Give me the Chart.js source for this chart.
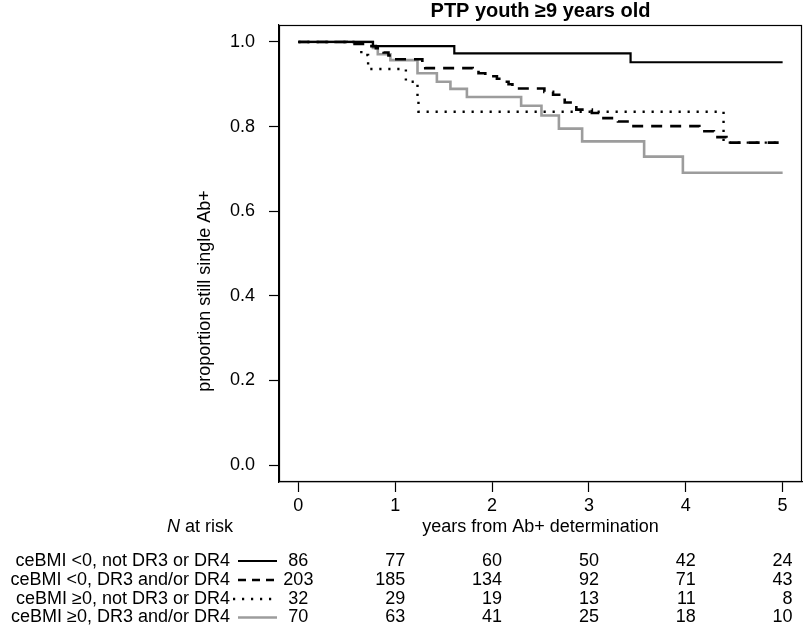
<!DOCTYPE html>
<html>
<head>
<meta charset="utf-8">
<script src="https://cdn.jsdelivr.net/npm/chart.js@4.4.1/dist/chart.umd.min.js"></script>
<style>
  html, body { margin: 0; padding: 0; background: #ffffff; }
  #wrap { width: 805px; height: 635px; }
</style>
</head>
<body>
<div id="wrap"><canvas id="c" width="805" height="635"></canvas></div>
<script>
// ---- data ----
const chartTitle = 'PTP youth \u22659 years old';
const xTitle = 'years from Ab+ determination';
const yTitle = 'proportion still single Ab+';
const xTicks = [0, 1, 2, 3, 4, 5];
const yTicks = [0, 0.2, 0.4, 0.6, 0.8, 1.0];

const groupLabels = [
  'ceBMI <0, not DR3 or DR4',
  'ceBMI <0, DR3 and/or DR4',
  'ceBMI \u22650, not DR3 or DR4',
  'ceBMI \u22650, DR3 and/or DR4'
];

// Kaplan-Meier steps: time (years) and survival after the drop at that time
const g1Time = [0, 0.77, 1.61, 3.43, 5.0];
const g1Surv = [1.0, 0.990, 0.973, 0.952, 0.952];

const g2Time = [0, 0.50, 0.70, 0.80, 0.84, 0.88, 0.93, 0.97, 1.28, 1.31, 1.80, 1.86, 1.93, 2.05, 2.09, 2.17, 2.21, 2.54, 2.63, 2.75, 2.87, 3.03, 3.15, 3.30, 3.44, 4.14, 4.29, 4.42, 5.0];
const g2Surv = [1.0, 0.995, 0.990, 0.985, 0.980, 0.975, 0.968, 0.959, 0.950, 0.938, 0.933, 0.926, 0.919, 0.913, 0.906, 0.900, 0.890, 0.882, 0.875, 0.857, 0.840, 0.832, 0.820, 0.812, 0.801, 0.789, 0.775, 0.762, 0.762];

const g3Time = [0, 0.65, 0.72, 1.11, 1.23, 1.24, 4.39, 5.0];
const g3Surv = [1.0, 0.969, 0.936, 0.906, 0.870, 0.835, 0.762, 0.762];

const g4Time = [0, 0.77, 0.82, 0.95, 1.23, 1.43, 1.57, 1.74, 2.30, 2.51, 2.69, 2.93, 3.57, 3.97, 5.0];
const g4Surv = [1.0, 0.986, 0.971, 0.957, 0.926, 0.906, 0.889, 0.870, 0.849, 0.826, 0.795, 0.765, 0.729, 0.691, 0.691];

// numbers at risk at years 0..5
const risk1 = [86, 77, 60, 50, 42, 24];
const risk2 = [203, 185, 134, 92, 71, 43];
const risk3 = [32, 29, 19, 13, 11, 8];
const risk4 = [70, 63, 41, 25, 18, 10];
const riskRows = [risk1, risk2, risk3, risk4];

// ---- styles ----
const GREY = '#9c9c9c';
const FONT = '"Liberation Sans", Arial, Helvetica, sans-serif';
const styles = [
  { color: '#000000', width: 2.2, dash: [] },
  { color: '#000000', width: 2.6, dash: [11, 8] },
  { color: '#000000', width: 2.4, dash: [2.2, 6.8] },
  { color: GREY, width: 2.6, dash: [] }
];

function pts(t, s) { return t.map((v, i) => ({ x: v, y: s[i] })); }
const series = [pts(g1Time, g1Surv), pts(g2Time, g2Surv), pts(g3Time, g3Surv), pts(g4Time, g4Surv)];

const datasets = series.map((d, i) => ({
  label: groupLabels[i],
  data: d,
  stepped: 'before',
  borderColor: styles[i].color,
  borderWidth: styles[i].width,
  borderDash: styles[i].dash,
  borderCapStyle: 'butt',
  pointRadius: 0,
  fill: false,
  order: i === 3 ? 4 : (3 - i)
}));

const annot = {
  id: 'annot',
  afterDraw(chart) {
    const ctx = chart.ctx;
    const a = chart.chartArea;
    const xs = chart.scales.x;
    ctx.save();
    // plot box
    ctx.strokeStyle = '#000';
    ctx.lineWidth = 1.2;
    ctx.strokeRect(a.left + 0.5, a.top + 0.5, a.right - a.left - 1, a.bottom - a.top - 1);

    ctx.fillStyle = '#000';
    // title
    ctx.font = 'bold 20px ' + FONT;
    ctx.textAlign = 'center';
    ctx.textBaseline = 'middle';
    ctx.fillText(chartTitle, (a.left + a.right) / 2, 11);

    // x title
    ctx.font = '18px ' + FONT;
    ctx.fillText(xTitle, (a.left + a.right) / 2, 527);

    // y title
    ctx.save();
    ctx.translate(205, 291);
    ctx.rotate(-Math.PI / 2);
    ctx.fillText(yTitle, 0, 0);
    ctx.restore();

    // "N at risk"
    ctx.font = 'italic 18px ' + FONT;
    const wN = ctx.measureText('N').width;
    ctx.font = '18px ' + FONT;
    const wRest = ctx.measureText(' at risk').width;
    const startX = 200 - (wN + wRest) / 2;
    ctx.textAlign = 'left';
    ctx.font = 'italic 18px ' + FONT;
    ctx.fillText('N', startX, 527);
    ctx.font = '18px ' + FONT;
    ctx.fillText(' at risk', startX + wN, 527);

    // at-risk table
    const rowY = [561, 580, 599, 617.5];
    for (let r = 0; r < 4; r++) {
      const y = rowY[r];
      ctx.font = '18px ' + FONT;
      ctx.textAlign = 'right';
      ctx.fillText(groupLabels[r], 230, y);
      // line sample
      ctx.save();
      ctx.strokeStyle = styles[r].color;
      ctx.lineWidth = styles[r].width;
      ctx.setLineDash(r === 1 ? [8, 6] : styles[r].dash);
      ctx.beginPath();
      ctx.moveTo(r === 2 ? 233 : 238, y);
      ctx.lineTo(277, y);
      ctx.stroke();
      ctx.restore();
      const row = riskRows[r];
      for (let c = 0; c < row.length; c++) {
        const px = xs.getPixelForValue(xTicks[c]);
        if (c === 0) {
          ctx.textAlign = 'center';
          ctx.fillText(String(row[c]), px, y);
        } else {
          ctx.textAlign = 'right';
          ctx.fillText(String(row[c]), px + 10, y);
        }
      }
    }
    ctx.restore();
  }
};

new Chart(document.getElementById('c'), {
  type: 'line',
  data: { datasets },
  plugins: [annot],
  options: {
    responsive: false,
    animation: false,
    devicePixelRatio: 1,
    layout: { padding: { top: 25, right: 3, left: 0, bottom: 0 } },
    plugins: { legend: { display: false }, tooltip: { enabled: false }, title: { display: false } },
    scales: {
      x: {
        type: 'linear',
        min: -0.2,
        max: 5.2,
        afterBuildTicks: (s) => { s.ticks = xTicks.map(v => ({ value: v })); },
        afterFit: (s) => { s.height = 153; },
        ticks: {
          autoSkip: false, maxRotation: 0, color: '#000', padding: 3,
          font: { family: FONT, size: 18 },
          callback: (v) => String(v)
        },
        grid: { drawOnChartArea: false, drawTicks: true, tickLength: 10, color: '#000', tickWidth: 1.2 },
        border: { display: true, color: '#000', width: 1.2 }
      },
      y: {
        type: 'linear',
        min: -0.04,
        max: 1.04,
        afterBuildTicks: (s) => { s.ticks = yTicks.map(v => ({ value: v })); },
        afterFit: (s) => { s.width = 279; },
        ticks: {
          autoSkip: false, color: '#000', padding: 14,
          font: { family: FONT, size: 18 },
          callback: (v) => Number(v).toFixed(1)
        },
        grid: { drawOnChartArea: false, drawTicks: true, tickLength: 10, color: '#000', tickWidth: 1.2 },
        border: { display: true, color: '#000', width: 1.2 }
      }
    }
  }
});
</script>
</body>
</html>
